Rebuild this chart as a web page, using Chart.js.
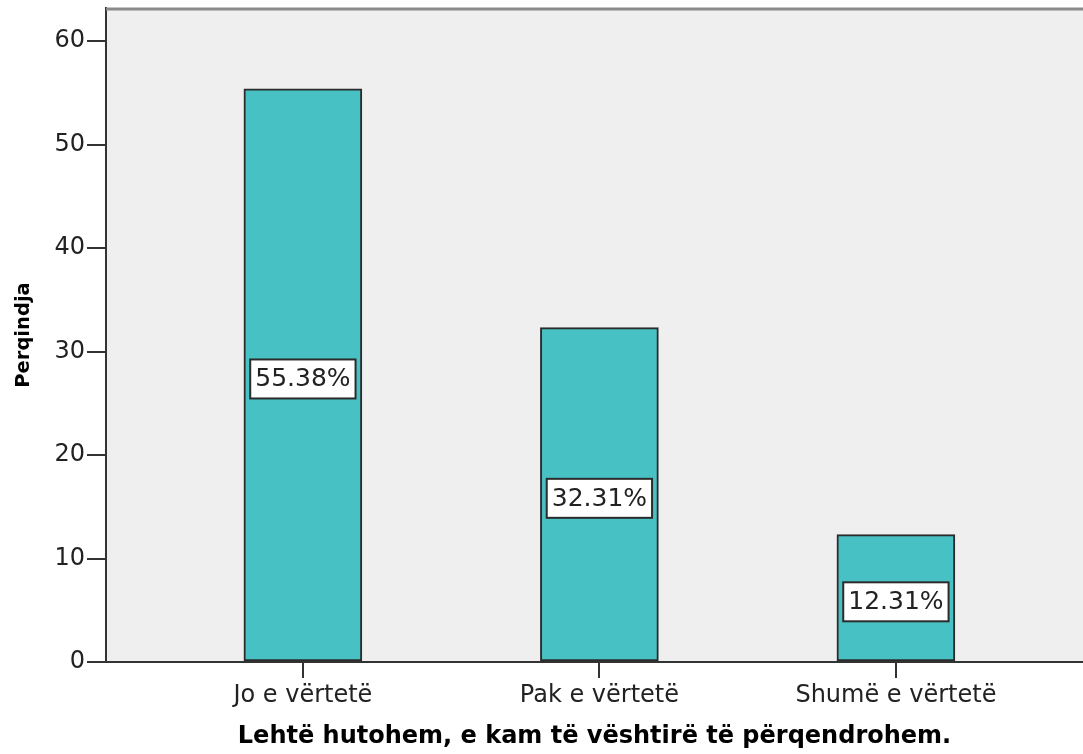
<!DOCTYPE html>
<html>
<head>
<meta charset="utf-8">
<title>Perqindja</title>
<script src="https://cdn.jsdelivr.net/npm/chart.js@4/dist/chart.umd.min.js"></script>
<style>
  html, body { margin: 0; padding: 0; background: #ffffff; }
  #wrap { width: 1083px; height: 754px; position: relative; }
</style>
</head>
<body>
<div id="wrap"><canvas id="myChart"></canvas></div>
<script>
var categories = ["Jo e vërtetë", "Pak e vërtetë", "Shumë e vërtetë"];
var percentages = [55.38, 32.31, 12.31];
var yTicks = [0, 10, 20, 30, 40, 50, 60];

var FONT = "'DejaVu Sans', 'Liberation Sans', Arial, sans-serif";

// grey plot background and the grey frame line on top
var plotFrame = {
  id: "plotFrame",
  beforeDraw: function (chart) {
    var a = chart.chartArea, ctx = chart.ctx;
    ctx.save();
    ctx.fillStyle = "#efefef";
    ctx.fillRect(a.left, a.top, a.right - a.left, a.bottom - a.top);
    ctx.restore();
  },
  afterDraw: function (chart) {
    var a = chart.chartArea, ctx = chart.ctx;
    ctx.save();
    ctx.strokeStyle = "#8a8a8a";
    ctx.lineWidth = 3;
    ctx.beginPath();
    ctx.moveTo(a.left, a.top + 1);
    ctx.lineTo(a.right, a.top + 1);
    ctx.stroke();
    ctx.restore();
  }
};

// white boxed percentage labels in the middle of each bar
var boxLabels = {
  id: "boxLabels",
  afterDatasetsDraw: function (chart) {
    var ctx = chart.ctx;
    var meta = chart.getDatasetMeta(0);
    ctx.save();
    ctx.font = "25px " + FONT;
    ctx.textAlign = "center";
    ctx.textBaseline = "middle";
    meta.data.forEach(function (bar, i) {
      var text = percentages[i].toFixed(2) + "%";
      var w = ctx.measureText(text).width + 10;
      var h = 39;
      var cy = (bar.y + bar.base) / 2 + 4;
      ctx.fillStyle = "#ffffff";
      ctx.fillRect(bar.x - w / 2, cy - h / 2, w, h);
      ctx.strokeStyle = "#2b2b2b";
      ctx.lineWidth = 2;
      ctx.strokeRect(bar.x - w / 2, cy - h / 2, w, h);
      ctx.fillStyle = "#222222";
      ctx.fillText(text, bar.x, cy + 1);
    });
    ctx.restore();
  }
};

function noEdgePadding(scale) {
  scale.paddingTop = 0;
  scale.paddingBottom = 0;
  scale.paddingLeft = 0;
  scale.paddingRight = 0;
}

var ctx = document.getElementById("myChart").getContext("2d");
window.myChart = new Chart(ctx, {
  type: "bar",
  data: {
    datasets: [
      {
        data: percentages.map(function (v, i) { return { x: i, y: v }; }),
        backgroundColor: "#48c1c5",
        borderColor: "#2b2b2b",
        borderWidth: 2,
        borderSkipped: false,
        barThickness: 118
      }
    ]
  },
  options: {
    responsive: true,
    maintainAspectRatio: false,
    animation: false,
    layout: { padding: { top: 8, right: 0, bottom: 0, left: 0 } },
    plugins: {
      legend: { display: false },
      tooltip: { enabled: false }
    },
    scales: {
      x: {
        type: "linear",
        min: -0.664,
        max: 2.631,
        offset: false,
        afterFit: function (scale) {
          scale.height = 92;
          noEdgePadding(scale);
        },
        afterBuildTicks: function (scale) {
          scale.ticks = categories.map(function (c, i) { return { value: i }; });
        },
        ticks: {
          stepSize: 1,
          includeBounds: false,
          autoSkip: false,
          maxRotation: 0,
          padding: 3,
          color: "#222222",
          font: { family: FONT, size: 24 },
          callback: function (value) { return categories[value]; }
        },
        grid: {
          offset: false,
          drawOnChartArea: false,
          drawTicks: true,
          tickLength: 16,
          color: "#333333",
          lineWidth: 2
        },
        border: { display: true, color: "#333333", width: 2 },
        title: {
          display: true,
          text: "Lehtë hutohem, e kam të vështirë të përqendrohem.",
          color: "#000000",
          font: { family: FONT, size: 24, weight: "bold" },
          padding: { top: 0, bottom: 3 }
        }
      },
      y: {
        min: 0,
        max: 63.2,
        afterFit: function (scale) {
          scale.width = 106;
          noEdgePadding(scale);
        },
        afterBuildTicks: function (scale) {
          scale.ticks = yTicks.map(function (v) { return { value: v }; });
        },
        ticks: {
          stepSize: 10,
          includeBounds: false,
          padding: 2,
          color: "#222222",
          font: { family: FONT, size: 24 }
        },
        grid: {
          drawOnChartArea: false,
          drawTicks: true,
          tickLength: 19,
          color: "#333333",
          lineWidth: 2
        },
        border: { display: true, color: "#333333", width: 2 },
        title: {
          display: true,
          text: "Perqindja",
          color: "#000000",
          font: { family: FONT, size: 19.5, weight: "bold" },
          padding: { top: 12, bottom: 0 }
        }
      }
    }
  },
  plugins: [plotFrame, boxLabels]
});
</script>
</body>
</html>
